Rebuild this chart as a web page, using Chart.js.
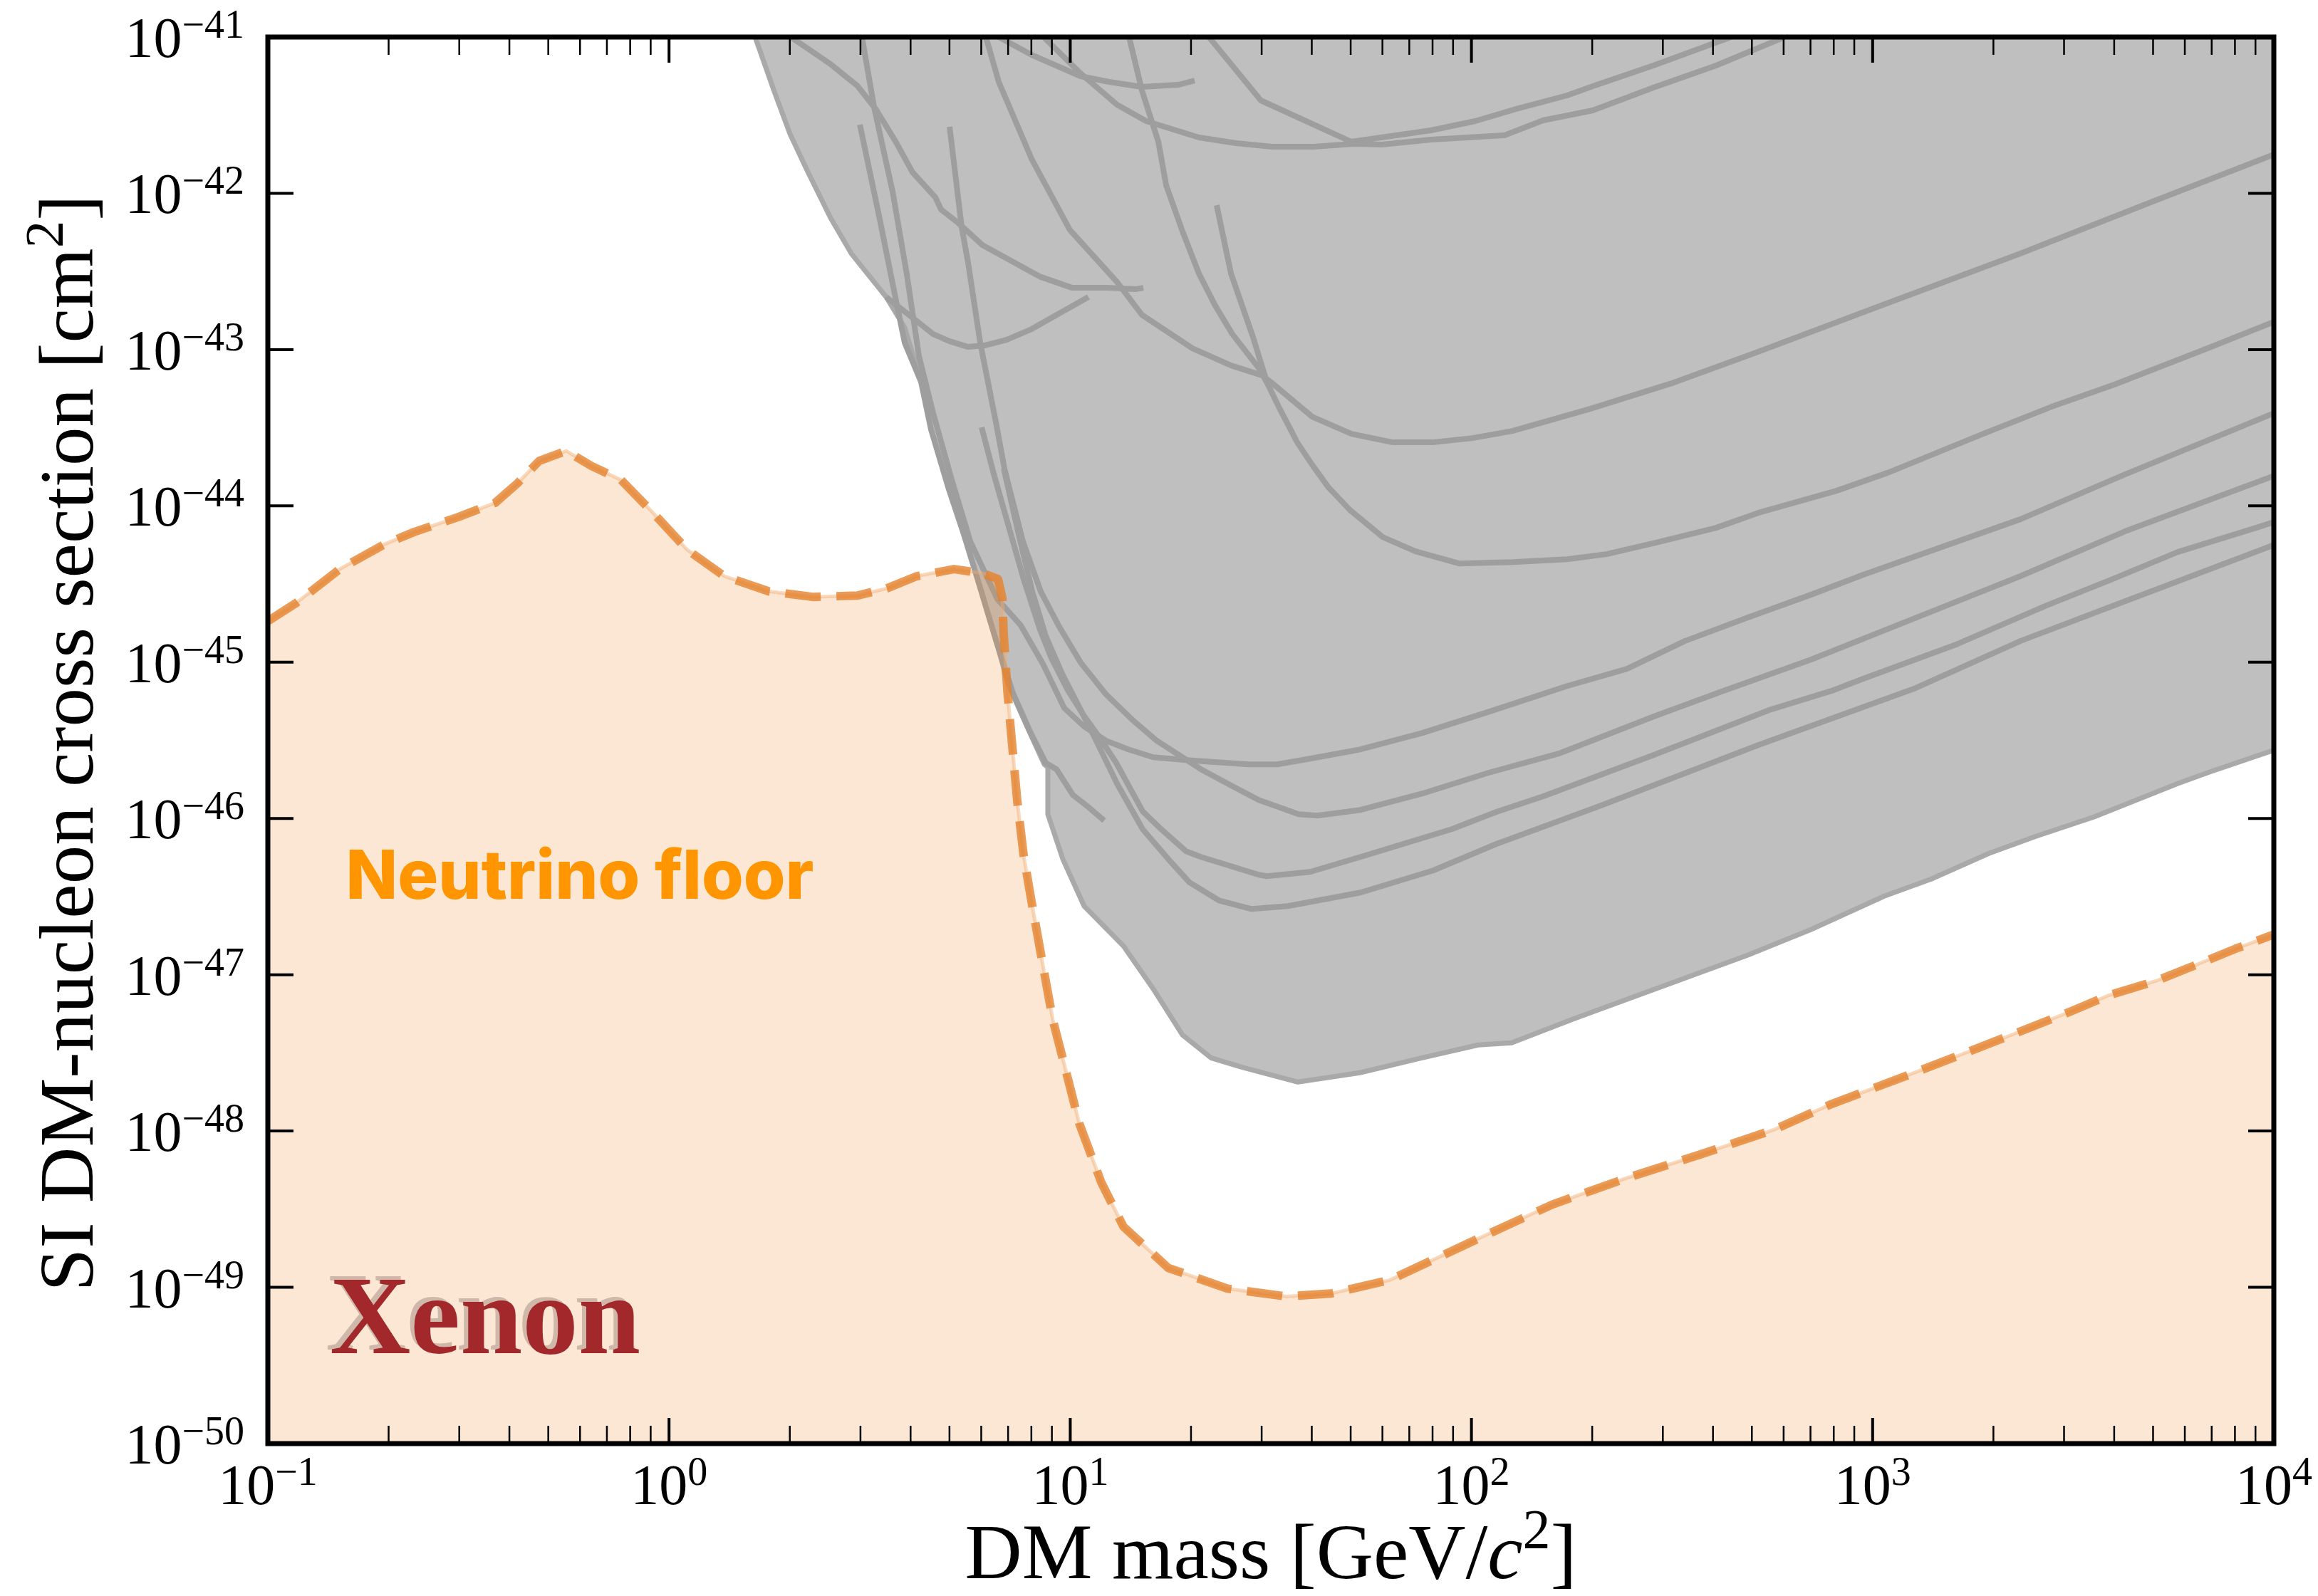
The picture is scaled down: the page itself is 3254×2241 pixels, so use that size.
<!DOCTYPE html>
<html>
<head>
<meta charset="utf-8">
<script src="https://cdn.jsdelivr.net/npm/chart.js@4.4.1/dist/chart.umd.min.js"></script>
<style>
html,body{margin:0;padding:0;background:#ffffff;}
canvas{display:block;}
</style>
</head>
<body>
<canvas id="chart" width="3254" height="2241"></canvas>
<script>
// ---------------- DATA: [DM mass (GeV/c^2), SI cross section (cm^2)] ----------------
const xTickExponents = [-1, 0, 1, 2, 3, 4];
const yTickExponents = [-50, -49, -48, -47, -46, -45, -44, -43, -42, -41];
const xAxisTitle = 'DM mass [GeV/';
const yAxisTitle = 'SI DM-nucleon cross section [cm';
const floorLabel = {text: 'Neutrino floor', mass: 0.1565, sigma: 3.055e-47};
const targetLabel = {text: 'Xenon', mass: 0.1427, sigma: 3.776e-50};

const neutrinoFloor = [[0.1,1.83e-45],[0.1173,2.38e-45],[0.1511,3.94e-45],[0.1955,5.69e-45],[0.2312,6.80e-45],[0.2979,8.47e-45],[0.3685,1.045e-44],[0.4182,1.388e-44],[0.4748,1.942e-44],[0.5546,2.248e-44],[0.6399,1.804e-44],[0.7599,1.462e-44],[0.8985,9.41e-45],[1.111,5.23e-45],[1.374,3.55e-45],[1.771,2.84e-45],[2.282,2.615e-45],[2.953,2.67e-45],[3.491,2.966e-45],[4.145,3.55e-45],[5.128,3.94e-45],[6.063,3.70e-45],[6.607,3.40e-45],[6.77,2.588e-45],[6.83,1.468e-45],[6.97,6.61e-46],[7.14,3.27e-46],[7.38,1.286e-46],[7.65,5.86e-47],[8.01,2.93e-47],[8.51,1.226e-47],[9.05,5.13e-48],[9.66,2.677e-48],[10.53,1.12e-48],[11.95,4.69e-49],[13.57,2.445e-49],[17.55,1.33e-49],[24.64,9.81e-50],[34.6,8.74e-50],[44.6,9.12e-50],[62.6,1.113e-49],[80.7,1.51e-49],[103.9,2.046e-49],[159,3.385e-49],[243,4.99e-49],[370.7,7.06e-49],[567,1.019e-48],[789,1.487e-48],[1203,2.239e-48],[1724,3.199e-48],[2334,4.338e-48],[3146,5.88e-48],[3889,7.41e-48],[5093,9.14e-48],[6699,1.213e-47],[8020,1.466e-47],[10000,1.808e-47]];

const excludedEdge = [[1.639,1e-41],[1.823,4.60e-42],[2.002,2.40e-42],[2.199,1.435e-42],[2.527,6.955e-43],[2.847,4.115e-43],[3.477,2.17e-43],[3.867,1.382e-43],[4.248,6.22e-44],[4.499,3.08e-44],[4.982,1.276e-44],[5.43,6.58e-45],[5.868,3.436e-45],[6.554,1.336e-45],[6.995,7.27e-46],[7.843,3.752e-46],[8.617,2.22e-46],[8.794,2.129e-46],[8.794,1.065e-46],[9.583,5.50e-47],[10.83,2.75e-47],[13.57,1.528e-47],[16.18,7.97e-48],[19.05,4.115e-48],[22.43,2.94e-48],[26.74,2.566e-48],[36.94,2.059e-48],[52.7,2.36e-48],[74.0,2.91e-48],[103.9,3.553e-48],[125.9,3.667e-48],[180.5,5.24e-48],[487.5,1.334e-47],[701.3,1.945e-47],[1069,3.186e-47],[1400,4.10e-47],[1949,5.98e-47],[2553,7.69e-47],[3555,1.021e-46],[5758,1.673e-46],[6895,1.979e-46],[10000,2.739e-46]];

const limit01 = [[2.011,1e-41],[2.527,6.71e-42],[2.953,4.85e-42],[3.283,3.43e-42],[3.683,2.115e-42],[4.046,1.361e-42],[4.61,9.43e-43],[4.764,7.89e-43],[5.234,6.53e-43],[6.038,4.67e-43],[8.375,2.94e-43],[10.11,2.486e-43],[12.35,2.486e-43],[14.54,2.435e-43],[15.21,2.486e-43]];
const limit02 = [[3.026,1e-41],[3.243,3.575e-42],[3.608,1.025e-42],[3.914,3.034e-43],[4.197,9.08e-44],[4.553,3.92e-44],[5.044,1.525e-44],[5.634,5.93e-45],[6.58,2.534e-45],[7.53,1.719e-45],[8.55,9.75e-46],[9.66,5.09e-46],[10.83,3.873e-46],[12.29,3.14e-46],[13.96,2.768e-46],[16.11,2.466e-46],[19.44,2.364e-46],[27.75,2.22e-46],[32.81,2.22e-46],[39.6,2.415e-46],[52.9,2.768e-46],[75.5,3.524e-46],[112.3,4.88e-46],[173.2,7.04e-46],[244.2,9.06e-46],[340.2,1.365e-45],[487.5,1.929e-45],[701.3,2.70e-45],[945,3.62e-45],[2334,8.21e-45],[4256,1.591e-44],[10000,3.92e-44]];
const limit03 = [[2.990,2.75e-42],[3.352,6.81e-43],[3.637,2.385e-43],[3.867,1.108e-43],[4.248,6.22e-44],[4.499,3.08e-44],[4.982,1.276e-44],[5.43,6.58e-45],[5.868,3.436e-45],[6.554,1.336e-45],[7.198,6.34e-46],[7.910,3.675e-46],[8.688,2.267e-46],[9.24,2.063e-46],[10.15,1.414e-46],[11.15,1.171e-46],[12.15,9.69e-47]];
const limit04 = [[5.003,2.665e-42],[5.364,6.07e-43],[5.565,3.59e-43],[5.965,1.108e-43],[6.554,3.246e-44],[6.856,1.729e-44],[7.62,5.93e-45],[8.44,2.84e-45],[9.39,1.683e-45],[10.61,9.96e-46],[12.29,6.21e-46],[14.25,4.30e-46],[16.44,3.14e-46],[18.66,2.545e-46],[21.18,2.063e-46],[25.05,1.638e-46],[29.49,1.314e-46],[37.09,1.065e-46],[41.26,1.043e-46],[52.9,1.134e-46],[75.5,1.444e-46],[110.0,1.957e-46],[164.9,2.598e-46],[284.1,4.484e-46],[419.0,6.475e-46],[701.3,1.038e-45],[1531,2.306e-45],[2334,3.55e-45],[4256,6.87e-45],[10000,1.557e-44]];
const limit05 = [[6.013,3.179e-44],[6.444,1.607e-44],[6.966,7.95e-45],[7.653,3.40e-45],[8.41,1.614e-45],[8.977,1.06e-45],[9.863,6.61e-46],[10.79,4.58e-46],[11.86,3.27e-46],[13.02,2.267e-46],[15.15,1.111e-46],[16.85,8.54e-47],[19.44,6.17e-47],[21.18,5.675e-47],[29.49,4.364e-47],[30.85,4.273e-47],[39.6,4.55e-47],[52.9,5.675e-47],[89.3,8.54e-47],[115.1,1.099e-46],[150.8,1.384e-46],[284.1,2.545e-46],[551,4.93e-46],[789,6.545e-46],[945,7.82e-46],[1628,1.308e-45],[2714,2.306e-45],[4003,3.436e-45],[5758,5.067e-45],[9029,7.24e-45],[10000,7.87e-45]];
const limit06 = [[6.83,1.729e-44],[7.436,6.58e-45],[8.04,2.84e-45],[8.688,1.468e-45],[9.546,8.42e-46],[10.49,5.25e-46],[11.52,3.27e-46],[13.08,1.673e-46],[15.15,8.54e-47],[17.55,5.50e-47],[19.84,3.89e-47],[23.47,2.99e-47],[28.31,2.637e-47],[34.88,2.75e-47],[52.9,3.357e-47],[80.3,4.648e-47],[115.1,6.855e-47],[209.9,1.208e-46],[518.2,2.948e-46],[1279,6.825e-46],[2334,1.365e-45],[4256,2.456e-45],[10000,5.627e-45]];
const limit07 = [[3.477,2.17e-43],[3.963,1.669e-43],[4.553,1.257e-43],[5.003,1.132e-43],[5.565,1.041e-43],[6.112,1.063e-43],[6.938,1.156e-43],[8.01,1.353e-43],[11.10,2.17e-43]];
const limit08 = [[6.162,1e-41],[6.634,5.165e-42],[8.01,1.662e-42],[9.984,5.82e-43],[13.13,2.677e-43],[15.09,1.669e-43],[20.17,1.019e-43],[25.16,7.92e-44],[30.10,6.84e-44],[31.88,6.095e-44],[40.09,3.72e-44],[50.2,2.892e-44],[63.6,2.55e-44],[80.0,2.55e-44],[100.6,2.716e-44],[126.5,3.016e-44],[197.5,4.176e-44],[319.9,6.16e-44],[518.2,9.67e-44],[1005,1.834e-43],[2334,4.115e-43],[5093,9.04e-43],[10000,1.77e-42]];
const limit09 = [[6.634,1e-41],[8.01,7.69e-42],[10.61,5.615e-42],[12.50,5.165e-42],[15.09,4.80e-42],[18.58,4.95e-42],[20.42,5.27e-42]];
const limit10 = [[8.58,1e-41],[10.61,5.855e-42],[13.08,3.69e-42],[15.46,2.899e-42],[20.93,2.277e-42],[25.88,2.094e-42],[31.88,1.987e-42],[40.42,1.987e-42],[50.8,2.072e-42],[59.8,2.05e-42],[79.3,2.207e-42],[120.9,2.35e-42],[150.8,2.93e-42],[200.7,3.393e-42],[284.1,4.747e-42],[407.2,6.57e-42],[603,1e-41]];
const limit11 = [[22.16,1e-41],[29.86,3.93e-42],[50.2,2.138e-42],[79.3,2.529e-42],[102.2,2.899e-42],[127.5,3.43e-42],[173.2,4.23e-42],[200.7,4.85e-42],[284.1,6.57e-42],[443.6,1e-41]];
const limit12 = [[14.02,1e-41],[15.09,4.55e-42],[16.58,2.138e-42],[17.34,1.127e-42],[19.05,5.70e-43],[20.93,3.067e-43],[22.98,1.913e-43],[25.36,1.257e-43],[29.62,7.52e-44],[30.98,6.095e-44],[33.08,4.31e-44],[36.79,2.55e-44],[39.92,1.861e-44],[43.85,1.33e-44],[49.79,9.41e-45],[60.1,6.32e-45],[72.5,5.12e-45],[93.1,4.28e-45],[126.9,4.373e-45],[173.2,4.56e-45],[216.9,4.91e-45],[292.4,5.87e-45],[407.2,7.24e-45],[518.2,9.02e-45],[812.4,1.249e-44],[1099,1.641e-44],[1886,2.892e-44],[2793,4.31e-44],[4003,5.97e-44],[6699,9.98e-44],[10000,1.503e-43]];
const limit13 = [[23.17,8.40e-43],[25.16,3.067e-43],[28.54,1.205e-43],[29.86,8.26e-44],[30.98,6.095e-44]];

const limitCurves = [limit01, limit02, limit03, limit04, limit05, limit06, limit07, limit08, limit09, limit10, limit11, limit12, limit13];

// ---------------- STYLE ----------------
const SERIF = '"Liberation Serif", "Times New Roman", serif';
const toPts = arr => arr.map(p => ({x: p[0], y: p[1]}));

const datasets = [];
datasets.push({
  label: 'excluded', data: toPts(excludedEdge), fill: 'end',
  backgroundColor: '#bfbfbf', borderColor: '#a9a9a9', borderWidth: 7,
  pointRadius: 0, tension: 0, order: 30, clip: 0, borderJoinStyle: 'round'
});
limitCurves.forEach((c, i) => datasets.push({
  label: 'limit' + i, data: toPts(c), fill: false,
  borderColor: '#9e9e9e', borderWidth: 8, pointRadius: 0, tension: 0,
  order: 20, clip: 0, borderJoinStyle: 'round', borderCapStyle: 'butt'
}));
datasets.push({
  label: 'floorFill', data: toPts(neutrinoFloor), fill: 'start',
  backgroundColor: 'rgba(240,140,50,0.21)', borderColor: 'rgba(240,170,110,0.45)',
  borderWidth: 5, pointRadius: 0, tension: 0, order: 2, clip: 0
});
datasets.push({
  label: 'floorLine', data: toPts(neutrinoFloor), fill: false,
  borderColor: 'rgba(228,130,45,0.8)', borderWidth: 12, borderDash: [50, 22],
  pointRadius: 0, tension: 0, order: 1, clip: 0, borderJoinStyle: 'round'
});

function drawPow(ctx, exp, anchorX, baseY, align) {
  const base = '10';
  const sup = exp < 0 ? '\u2212' + Math.abs(exp) : String(exp);
  ctx.font = '80px ' + SERIF;
  const w1 = ctx.measureText(base).width;
  ctx.font = '56px ' + SERIF;
  const w2 = ctx.measureText(sup).width;
  const total = w1 + w2;
  const x0 = align === 'right' ? anchorX - total : anchorX - total / 2;
  ctx.textAlign = 'left';
  ctx.font = '80px ' + SERIF;
  ctx.fillText(base, x0, baseY);
  ctx.font = '56px ' + SERIF;
  ctx.fillText(sup, x0 + w1, baseY - 27);
}

function drawRich(ctx, segs, cx, baseY) {
  let total = 0;
  segs.forEach(s => { ctx.font = s.font; s.w = ctx.measureText(s.t).width; total += s.w; });
  let x0 = cx - total / 2;
  ctx.textAlign = 'left';
  segs.forEach(s => { ctx.font = s.font; ctx.fillText(s.t, x0, baseY + (s.dy || 0)); x0 += s.w; });
}

const mplFrame = {
  id: 'mplFrame',
  afterDatasetsDraw(chart) {
    const {ctx, scales: {x, y}} = chart;
    ctx.save();
    ctx.textBaseline = 'alphabetic';
    ctx.textAlign = 'left';
    ctx.font = '800 95px Inter, "Noto Sans", sans-serif';
    ctx.fillStyle = '#ff9500';
    ctx.fillText(floorLabel.text, x.getPixelForValue(floorLabel.mass), y.getPixelForValue(floorLabel.sigma));
    const tx = x.getPixelForValue(targetLabel.mass), ty = y.getPixelForValue(targetLabel.sigma);
    ctx.font = 'bold 157px ' + SERIF;
    ctx.fillStyle = 'rgba(150,125,115,0.45)';
    ctx.fillText(targetLabel.text, tx - 6, ty - 5);
    ctx.fillStyle = '#a2282b';
    ctx.fillText(targetLabel.text, tx, ty);
    ctx.restore();
  },
  afterDraw(chart) {
    const {ctx, chartArea: a, scales: {x, y}} = chart;
    ctx.save();
    ctx.strokeStyle = '#000';
    ctx.fillStyle = '#000';
    ctx.lineCap = 'butt';
    const xMaxVal = Math.pow(10, xTickExponents[xTickExponents.length - 1]) * 1.0001;
    for (let i = 0; i < xTickExponents.length; i++) {
      const e = xTickExponents[i];
      for (let j = 1; j <= 9; j++) {
        const v = j * Math.pow(10, e);
        if (v > xMaxVal) break;
        const px = x.getPixelForValue(v);
        const major = j === 1;
        const len = major ? 36 : 25;
        ctx.lineWidth = major ? 4 : 2.5;
        ctx.beginPath();
        ctx.moveTo(px, a.bottom); ctx.lineTo(px, a.bottom - len);
        ctx.moveTo(px, a.top); ctx.lineTo(px, a.top + len);
        ctx.stroke();
      }
    }
    ctx.lineWidth = 4;
    yTickExponents.forEach(e => {
      const py = y.getPixelForValue(Math.pow(10, e));
      ctx.beginPath();
      ctx.moveTo(a.left, py); ctx.lineTo(a.left + 36, py);
      ctx.moveTo(a.right, py); ctx.lineTo(a.right - 36, py);
      ctx.stroke();
    });
    ctx.lineWidth = 7;
    ctx.strokeRect(a.left, a.top, a.right - a.left, a.bottom - a.top);
    ctx.textBaseline = 'alphabetic';
    xTickExponents.forEach(e => {
      drawPow(ctx, e, x.getPixelForValue(Math.pow(10, e)), a.bottom + 85, 'center');
    });
    yTickExponents.forEach(e => {
      drawPow(ctx, e, a.left - 33, y.getPixelForValue(Math.pow(10, e)) + 28, 'right');
    });
    drawRich(ctx, [
      {t: xAxisTitle, font: '111px ' + SERIF},
      {t: 'c', font: 'italic 111px ' + SERIF},
      {t: '2', font: '78px ' + SERIF, dy: -43},
      {t: ']', font: '111px ' + SERIF}
    ], (a.left + a.right) / 2, 2216);
    ctx.save();
    ctx.translate(130, (a.top + a.bottom) / 2 + 4);
    ctx.rotate(-Math.PI / 2);
    drawRich(ctx, [
      {t: yAxisTitle, font: '109px ' + SERIF},
      {t: '2', font: '77px ' + SERIF, dy: -42},
      {t: ']', font: '109px ' + SERIF}
    ], 0, 0);
    ctx.restore();
    ctx.restore();
  }
};

new Chart(document.getElementById('chart').getContext('2d'), {
  type: 'line',
  data: {datasets: datasets},
  options: {
    responsive: false,
    devicePixelRatio: 1,
    animation: false,
    events: [],
    layout: {padding: {top: 52, right: 62, bottom: 0, left: 0}},
    plugins: {legend: {display: false}, tooltip: {enabled: false}, filler: {propagate: false}},
    elements: {point: {radius: 0}},
    scales: {
      x: {type: 'logarithmic', min: 0.1, max: 1e4, grid: {display: false}, border: {display: false},
          ticks: {display: false}, afterFit: s => { s.height = 214; }},
      y: {type: 'logarithmic', min: 1e-50, max: 1e-41, grid: {display: false}, border: {display: false},
          ticks: {display: false}, afterFit: s => { s.width = 376; }}
    }
  },
  plugins: [mplFrame]
});
</script>
</body>
</html>
